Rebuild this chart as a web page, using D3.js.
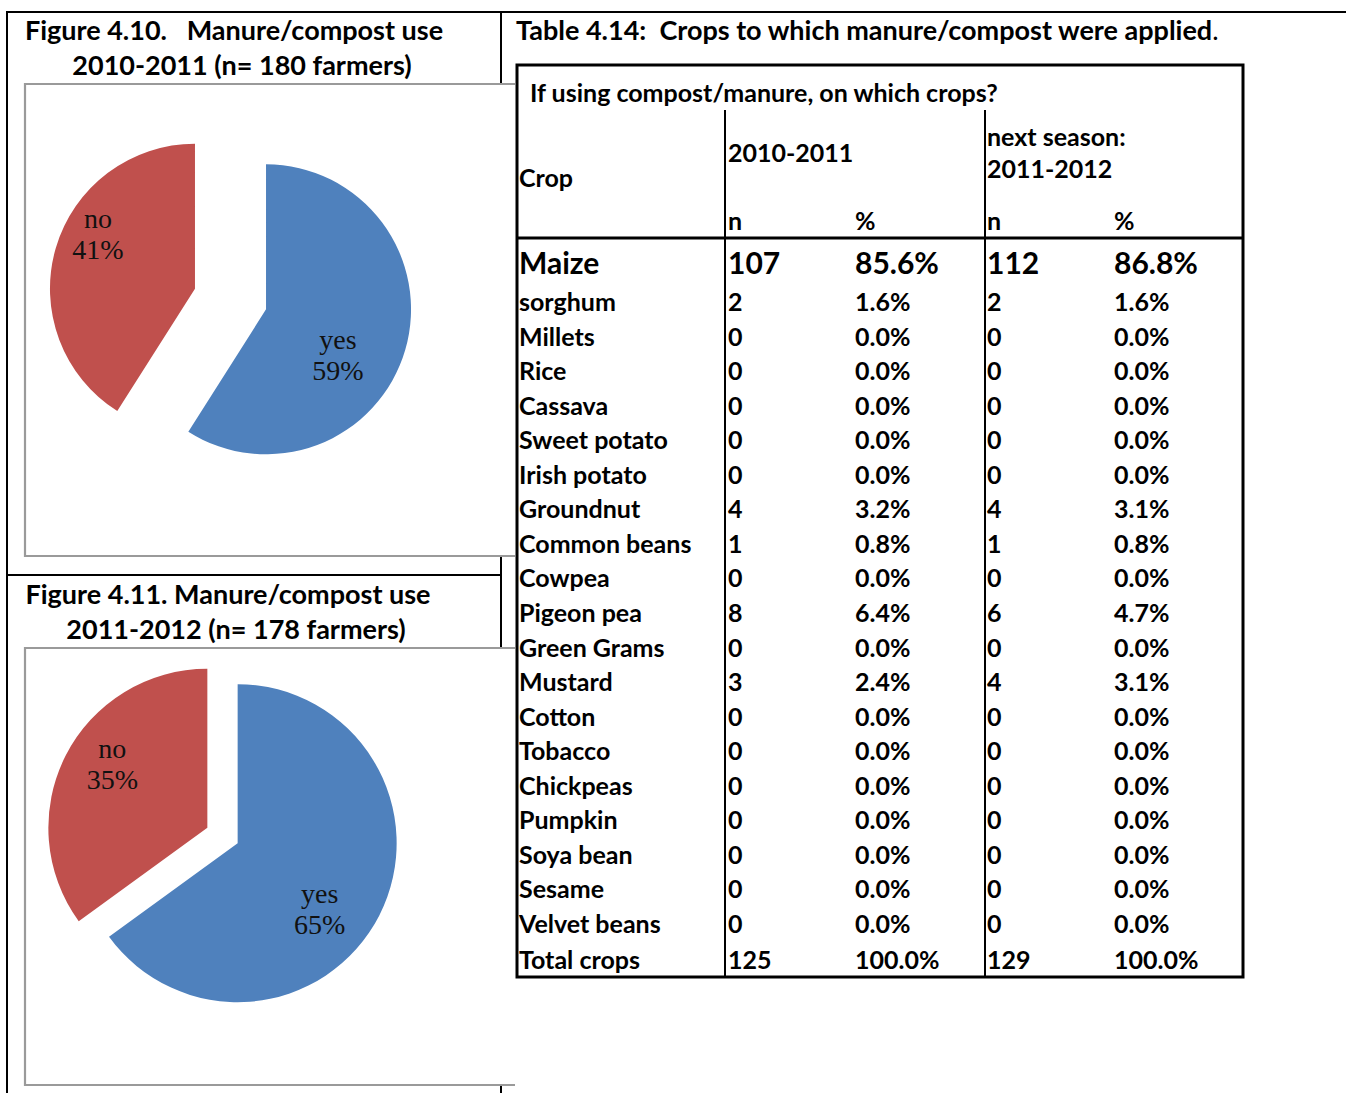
<!DOCTYPE html>
<html><head><meta charset="utf-8">
<script src="https://cdn.jsdelivr.net/npm/d3@7"></script>
<style>
html,body{margin:0;padding:0;background:#fff;}
svg{display:block;}
</style></head>
<body>
<svg id="c" width="1346" height="1093"></svg>
<script>
// ---------- DATA ----------
const pieLabels = ["yes", "no"];
const pie2010 = [59, 41];
const pie2011 = [65, 35];
const pieColors = ["#4F81BD", "#C0504D"];

const crops = ["Maize","sorghum","Millets","Rice","Cassava","Sweet potato","Irish potato","Groundnut","Common beans","Cowpea","Pigeon pea","Green Grams","Mustard","Cotton","Tobacco","Chickpeas","Pumpkin","Soya bean","Sesame","Velvet beans","Total crops"];
const n2010 = [107,2,0,0,0,0,0,4,1,0,8,0,3,0,0,0,0,0,0,0,125];
const pct2010 = [85.6,1.6,0,0,0,0,0,3.2,0.8,0,6.4,0,2.4,0,0,0,0,0,0,0,100.0];
const n2011 = [112,2,0,0,0,0,0,4,1,0,6,0,4,0,0,0,0,0,0,0,129];
const pct2011 = [86.8,1.6,0,0,0,0,0,3.1,0.8,0,4.7,0,3.1,0,0,0,0,0,0,0,100.0];

// ---------- LAYOUT ----------
const svg = d3.select("#c");
const SANS = "Lato, 'Open Sans', sans-serif";
const SERIF = "'Liberation Serif', 'DejaVu Serif', serif";

// outer page-table lines
const g0 = svg.append("g").attr("stroke", "#000").attr("stroke-width", 2);
g0.append("line").attr("x1", 6).attr("x2", 1346).attr("y1", 12).attr("y2", 12);
g0.append("line").attr("x1", 7).attr("x2", 7).attr("y1", 12).attr("y2", 1093);
g0.append("line").attr("x1", 501).attr("x2", 501).attr("y1", 12).attr("y2", 1093);
g0.append("line").attr("x1", 7).attr("x2", 501).attr("y1", 575).attr("y2", 575);

// titles
function title(lines, cx, y0, dy) {
  const t = svg.append("text").attr("font-family", SANS).attr("font-weight", 700)
    .attr("font-size", 27).attr("fill", "#000").attr("text-anchor", "middle");
  lines.forEach((s, i) => t.append("tspan").attr("x", cx[i]).attr("y", y0 + i * dy).attr("xml:space","preserve").text(s));
}
title(["Figure 4.10.   Manure/compost use", "2010-2011 (n= 180 farmers)"], [234, 242], 40, 35);
title(["Figure 4.11. Manure/compost use", "2011-2012 (n= 178 farmers)"], [228, 236], 604, 35);

// chart boxes (white fill, grey border, open on the right)
function box(y0, y1) {
  svg.append("rect").attr("x", 25).attr("y", y0).attr("width", 490).attr("height", y1 - y0).attr("fill", "#fff");
  svg.append("path").attr("d", `M515,${y0}H25V${y1}H515`).attr("fill", "none")
    .attr("stroke", "#9a9a9a").attr("stroke-width", 2.2);
}
box(84, 556);
box(648, 1085);

// pies
function drawPie(values, cx, cy, r, explode, labelOff) {
  const pie = d3.pie().sort(null).value(d => d)(values);
  const arc = d3.arc().innerRadius(0).outerRadius(r);
  const g = svg.append("g").attr("transform", `translate(${cx},${cy})`);
  pie.forEach((p, i) => {
    const mid = (p.startAngle + p.endAngle) / 2;
    const ox = Math.sin(mid) * explode, oy = -Math.cos(mid) * explode;
    const gs = g.append("g").attr("transform", `translate(${ox},${oy})`);
    gs.append("path").attr("d", arc(p)).attr("fill", pieColors[i]);
    const t = gs.append("text").attr("font-family", SERIF).attr("font-size", 28)
      .attr("fill", "#111").attr("text-anchor", "middle");
    t.append("tspan").attr("x", labelOff[i][0]).attr("y", labelOff[i][1] - 6).text(pieLabels[i]);
    t.append("tspan").attr("x", labelOff[i][0]).attr("y", labelOff[i][1] + 25).text(values[i] + "%");
  });
}
drawPie(pie2010, 230.5, 299, 145, 37, [[72, 46], [-97, -55]]);
drawPie(pie2011, 222.5, 835.5, 159, 17, [[82, 66], [-95, -64]]);

// table title
const tt = svg.append("text").attr("x", 516).attr("y", 40).attr("font-family", SANS)
  .attr("font-size", 27).attr("fill", "#000").attr("xml:space", "preserve");
tt.append("tspan").attr("font-weight", 700).text("Table 4.14:  Crops to which manure/compost were applied");
tt.append("tspan").attr("font-weight", 400).text(".");

// table
const T = {x0: 517, x1: 1243, y0: 65, y1: 977};
svg.append("rect").attr("x", T.x0).attr("y", T.y0).attr("width", T.x1 - T.x0).attr("height", T.y1 - T.y0)
  .attr("fill", "#fff").attr("stroke", "#000").attr("stroke-width", 3);
svg.append("line").attr("x1", T.x0).attr("x2", T.x1).attr("y1", 238).attr("y2", 238).attr("stroke", "#000").attr("stroke-width", 3);
[725, 985].forEach(x => svg.append("line").attr("x1", x).attr("x2", x).attr("y1", 110).attr("y2", T.y1)
  .attr("stroke", "#000").attr("stroke-width", 2));

const colX = {crop: 519, n1: 728, p1: 855, n2: 987, p2: 1114};
function txt(x, y, s, size, weight) {
  svg.append("text").attr("x", x).attr("y", y).attr("font-family", SANS).attr("font-size", size || 25)
    .attr("font-weight", weight || 700).attr("fill", "#000").text(s);
}
txt(530, 102, "If using compost/manure, on which crops?");
txt(colX.crop, 187, "Crop");
txt(colX.n1, 162, "2010-2011");
txt(colX.n2, 146, "next season:");
txt(colX.n2, 178, "2011-2012");
txt(colX.n1, 230, "n"); txt(colX.p1, 230, "%");
txt(colX.n2, 230, "n"); txt(colX.p2, 230, "%");

const y = d3.scaleLinear().domain([1, 19]).range([311, 933]);
const fmt = d3.format(".1f");
crops.forEach((c, i) => {
  let yy, size = 25;
  if (i === 0) { yy = y(1) - 37; size = 30; }
  else if (i === crops.length - 1) { yy = y(19) + 36; }
  else yy = y(i);
  txt(colX.crop, yy, c, size);
  txt(colX.n1, yy, n2010[i], size);
  txt(colX.p1, yy, fmt(pct2010[i]) + "%", size);
  txt(colX.n2, yy, n2011[i], size);
  txt(colX.p2, yy, fmt(pct2011[i]) + "%", size);
});
</script>
</body></html>
